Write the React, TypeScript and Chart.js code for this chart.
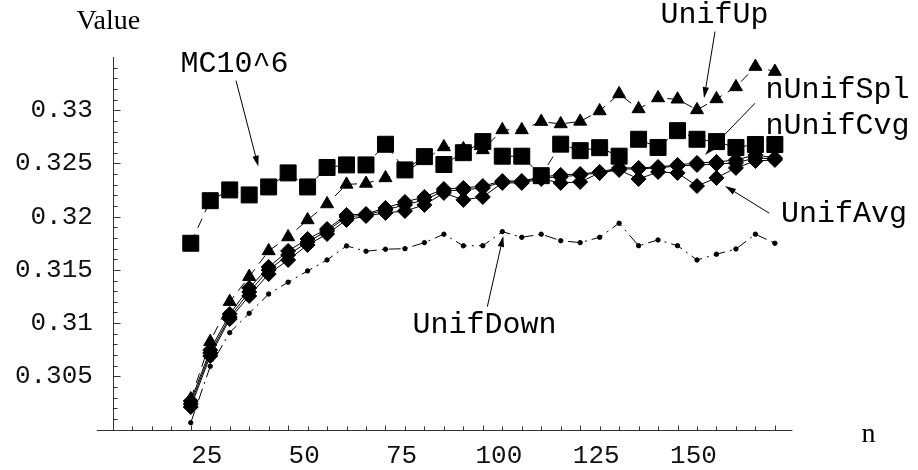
import React, { useEffect, useRef } from 'react';
import { Chart, registerables } from 'chart.js';

Chart.register(...registerables);

// ---- data ----
const N_VALUES = [25, 30, 35, 40, 45, 50, 55, 60, 65, 70, 75, 80, 85, 90, 95, 100, 105, 110, 115, 120, 125, 130, 135, 140, 145, 150, 155, 160, 165, 170, 175];

const MC10_6 = [0.3175, 0.3215, 0.32251, 0.32204, 0.32279, 0.32411, 0.32279, 0.32462, 0.32486, 0.32486,
  0.3268, 0.32439, 0.32564, 0.3249, 0.32601, 0.32705, 0.32568, 0.32568, 0.32385, 0.32681,
  0.3262, 0.32648, 0.32568, 0.32727, 0.3265, 0.32808, 0.32727, 0.32705, 0.3265, 0.32678, 0.32678];

const UNIF_UP = [0.30287, 0.30825, 0.31201, 0.31436, 0.31678, 0.31809, 0.31969, 0.32119, 0.32303, 0.32312,
  0.32364, 0.3242, 0.32533, 0.32655, 0.32636, 0.32627, 0.32815, 0.32815, 0.32893, 0.32871,
  0.32895, 0.32993, 0.33153, 0.33012, 0.33115, 0.33103, 0.33003, 0.33106, 0.33219, 0.3341, 0.33363];

const N_UNIF_SPL = [0.30268, 0.30747, 0.31085, 0.3133, 0.31527, 0.31678, 0.3179, 0.31884, 0.32016, 0.32025,
  0.32082, 0.32138, 0.32185, 0.3226, 0.3227, 0.32288, 0.32335, 0.32335, 0.32373, 0.32392,
  0.32401, 0.3242, 0.32458, 0.32458, 0.32467, 0.32486, 0.32505, 0.32514, 0.32533, 0.3258, 0.32552];

const N_UNIF_CVG = [0.3024, 0.30719, 0.31057, 0.31292, 0.31499, 0.3164, 0.31762, 0.31866, 0.31997, 0.32016,
  0.32063, 0.3211, 0.32157, 0.32241, 0.32251, 0.3227, 0.32326, 0.32326, 0.32364, 0.32373,
  0.32392, 0.32411, 0.32448, 0.32448, 0.32458, 0.32476, 0.32486, 0.32495, 0.32505, 0.32552, 0.32542];

const UNIF_AVG = [0.30211, 0.30691, 0.31038, 0.31255, 0.31461, 0.31593, 0.31734, 0.31837, 0.31969, 0.32006,
  0.32035, 0.32053, 0.3211, 0.32223, 0.32157, 0.32185, 0.32317, 0.32317, 0.32354, 0.32317,
  0.32326, 0.32411, 0.32439, 0.32354, 0.3242, 0.32411, 0.32288, 0.32364, 0.32458, 0.32523, 0.32533];

const UNIF_DOWN = [0.30064, 0.30594, 0.3091, 0.31092, 0.31273, 0.31384, 0.3149, 0.31593, 0.31725, 0.31675,
  0.31694, 0.31699, 0.31756, 0.31835, 0.31726, 0.31727, 0.31859, 0.31806, 0.31835, 0.31774,
  0.31756, 0.31806, 0.31938, 0.31727, 0.31781, 0.31727, 0.31593, 0.31647, 0.31696, 0.31835, 0.3175];

const X_TICK_LABELS = [25, 50, 75, 100, 125, 150];
const Y_TICK_LABELS = ['0.305', '0.31', '0.315', '0.32', '0.325', '0.33'];

// annotation labels anchored in data coordinates (n, value)
const SERIES_LABELS = [
  { text: 'MC10^6', n: 22.37, v: 0.33355 },
  { text: 'UnifUp', n: 145.63, v: 0.33816 },
  { text: 'nUnifSpl', n: 172.6, v: 0.33116 },
  { text: 'nUnifCvg', n: 172.6, v: 0.32777 },
  { text: 'UnifAvg', n: 176.58, v: 0.31953 },
  { text: 'UnifDown', n: 81.95, v: 0.3091 },
];

const ARROWS = [
  { from: [36.62, 0.33278], to: [42.35, 0.3247] },
  { from: [159.63, 0.33739], to: [156.81, 0.33113] },
  { from: [169.9, 0.33066], to: [157.06, 0.3258] },
  { from: [173.57, 0.32032], to: [162.2, 0.32289] },
  { from: [101.16, 0.31154], to: [105.26, 0.31819] },
];

const X_MIN = 5;
const X_MAX = 179.5;
const X_AXIS_START = 0.85;
const Y_MIN = 0.3;
const Y_MAX = 0.335;

const AXIS_COLOR = '#333';

const overlayPlugin = {
  id: 'overlay',
  afterDraw(chart: any) {
    const { ctx, chartArea: ca } = chart;
    const xs = chart.scales.x;
    const ys = chart.scales.y;
    ctx.save();
    ctx.strokeStyle = AXIS_COLOR;
    ctx.lineWidth = 1;
    const yAxisPx = Math.round(xs.getPixelForValue(X_MIN)) + 0.5;
    const xAxisPy = Math.round(ys.getPixelForValue(Y_MIN)) + 0.5;
    // axes
    ctx.beginPath();
    ctx.moveTo(xs.getPixelForValue(X_AXIS_START), xAxisPy);
    ctx.lineTo(ca.right, xAxisPy);
    ctx.moveTo(yAxisPx, ca.top);
    ctx.lineTo(yAxisPx, xAxisPy);
    ctx.stroke();
    // x tick marks (inward)
    ctx.beginPath();
    for (let k = 2; k * 5 <= 175; k++) {
      const v = k * 5;
      const px = Math.round(xs.getPixelForValue(v)) + 0.5;
      const len = v % 25 === 0 ? 5 : 4;
      ctx.moveTo(px, xAxisPy);
      ctx.lineTo(px, xAxisPy - len);
    }
    // y tick marks (inward)
    for (let k = 1; k <= 34; k++) {
      const v = Y_MIN + k * 0.001;
      const py = Math.round(ys.getPixelForValue(v)) + 0.5;
      const len = k % 5 === 0 ? 7 : 4;
      ctx.moveTo(yAxisPx, py);
      ctx.lineTo(yAxisPx + len, py);
    }
    ctx.stroke();

    // arrows
    ctx.strokeStyle = '#000';
    ctx.fillStyle = '#000';
    ARROWS.forEach((a) => {
      const x1 = xs.getPixelForValue(a.from[0]);
      const y1 = ys.getPixelForValue(a.from[1]);
      const x2 = xs.getPixelForValue(a.to[0]);
      const y2 = ys.getPixelForValue(a.to[1]);
      const ang = Math.atan2(y2 - y1, x2 - x1);
      const hl = 11;
      const hw = 3.2;
      const bx = x2 - Math.cos(ang) * hl;
      const by = y2 - Math.sin(ang) * hl;
      ctx.beginPath();
      ctx.moveTo(x1, y1);
      ctx.lineTo(bx, by);
      ctx.stroke();
      ctx.beginPath();
      ctx.moveTo(x2, y2);
      ctx.lineTo(bx - Math.sin(ang) * hw, by + Math.cos(ang) * hw);
      ctx.lineTo(bx + Math.sin(ang) * hw, by - Math.cos(ang) * hw);
      ctx.closePath();
      ctx.fill();
    });

    // series labels
    ctx.font = '30px "Liberation Mono", "Courier New", monospace';
    ctx.textAlign = 'left';
    ctx.textBaseline = 'alphabetic';
    SERIES_LABELS.forEach((l) => {
      ctx.fillText(l.text, xs.getPixelForValue(l.n), ys.getPixelForValue(l.v));
    });

    // axis titles
    ctx.font = '28px "Liberation Serif", "Times New Roman", serif';
    ctx.fillText('Value', ca.left - 36.5, ca.top - 28);
    ctx.fillText('n', ca.right + 69, ca.bottom + 12.5);
    ctx.restore();
  },
};

function pts(arr: number[]) {
  return N_VALUES.map((n, i) => ({ x: n, y: arr[i] }));
}

export default function App() {
  const canvasRef = useRef<HTMLCanvasElement | null>(null);

  useEffect(() => {
    const canvas = canvasRef.current;
    if (!canvas) return;
    const common = {
      borderColor: '#000',
      backgroundColor: '#000',
      pointBackgroundColor: '#000',
      pointBorderColor: '#000',
      pointBorderWidth: 1,
      borderWidth: 1,
      fill: false,
      tension: 0,
      clip: false as const,
    };
    const chart = new Chart(canvas, {
      type: 'line',
      data: {
        datasets: [
          { ...common, label: 'MC10^6', data: pts(MC10_6), pointStyle: 'rect', pointRadius: 11.3, borderDash: [10, 7] },
          { ...common, label: 'UnifUp', data: pts(UNIF_UP), pointStyle: 'triangle', pointRadius: 7.5, borderDash: [10, 7] },
          { ...common, label: 'nUnifSpl', data: pts(N_UNIF_SPL), pointStyle: 'rectRot', pointRadius: 7.5 },
          { ...common, label: 'nUnifCvg', data: pts(N_UNIF_CVG), pointStyle: 'rectRot', pointRadius: 7.5 },
          { ...common, label: 'UnifAvg', data: pts(UNIF_AVG), pointStyle: 'rectRot', pointRadius: 7.5 },
          { ...common, label: 'UnifDown', data: pts(UNIF_DOWN), pointStyle: 'circle', pointRadius: 2.2, borderDash: [12, 5, 2, 5] },
        ],
      },
      options: {
        animation: false,
        responsive: false,
        events: [],
        layout: { padding: { left: 0, right: 125.6, top: 57, bottom: 0 } },
        plugins: { legend: { display: false }, tooltip: { enabled: false } },
        scales: {
          x: {
            type: 'linear',
            min: X_MIN,
            max: X_MAX,
            grid: { display: false, drawTicks: false },
            border: { display: false },
            afterBuildTicks: (scale: any) => {
              scale.ticks = X_TICK_LABELS.map((v) => ({ value: v }));
            },
            afterFit: (scale: any) => {
              scale.height = 40.5;
            },
            ticks: {
              autoSkip: false,
              maxRotation: 0,
              padding: 11,
              labelOffset: 16,
              color: '#111',
              font: { family: '"Liberation Mono", "Courier New", monospace', size: 26 },
              callback: (v: any) => String(v),
            },
          },
          y: {
            type: 'linear',
            min: Y_MIN,
            max: Y_MAX,
            grid: { display: false, drawTicks: false },
            border: { display: false },
            afterBuildTicks: (scale: any) => {
              scale.ticks = Y_TICK_LABELS.map((s) => ({ value: parseFloat(s) }));
            },
            afterFit: (scale: any) => {
              scale.width = 112.9;
            },
            ticks: {
              autoSkip: false,
              padding: 20,
              color: '#111',
              font: { family: '"Liberation Mono", "Courier New", monospace', size: 26 },
              callback: (v: any) => {
                const s = Y_TICK_LABELS.find((t) => Math.abs(parseFloat(t) - v) < 1e-9);
                return s ?? '';
              },
            },
          },
        },
      },
      plugins: [overlayPlugin],
    } as any);
    return () => chart.destroy();
  }, []);

  return (
    <div style={{ position: 'fixed', left: 0, top: 0, width: 918, height: 470, background: '#fff' }}>
      <canvas ref={canvasRef} width={918} height={470} style={{ display: 'block', width: 918, height: 470 }} />
    </div>
  );
}
